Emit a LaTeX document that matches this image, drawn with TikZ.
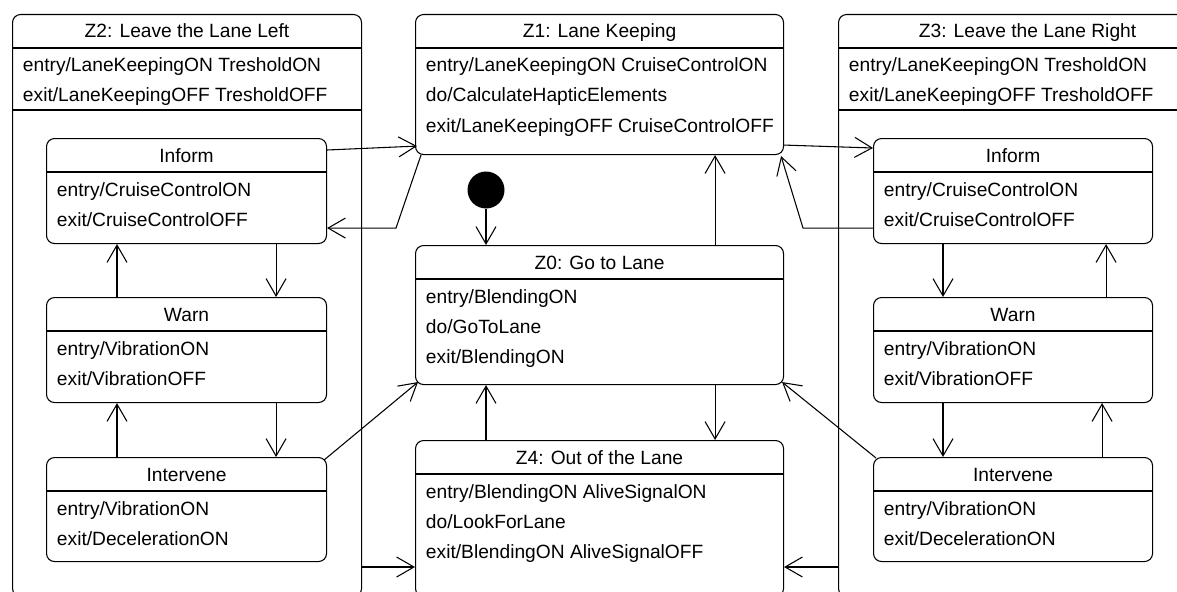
\documentclass[tikz,border=0pt]{standalone}
\usepackage{fontspec}
\setmainfont{Liberation Sans}
\usetikzlibrary{arrows.meta,calc}

\tikzset{
  umlstate/.style={draw, rounded corners=6pt, inner sep=0pt},
  every node/.append style={font=\fontsize{14.4}{17}\selectfont},
}

% state box: name, north west corner, width, height, title, activities
\newcommand{\umlstate}[6]{%
  \node[umlstate, anchor=north west, minimum width={#3*0.75pt}, minimum height={#4*0.75pt}] (#1) at (#2) {};
  \draw ($(#1.north west)+(0,34)$) -- ($(#1.north east)+(0,34)$);
  \node[anchor=base] at ($(#1.north)+(0,24)$) {#5};
  \foreach \act [count=\i, evaluate=\i as \yy using 28+30*\i] in {#6}
    \node[anchor=base west] at ($(#1.north west)+(6,\yy)$) {\act};
}

\begin{document}
\begin{tikzpicture}[x=0.75pt,y=-0.75pt,line width=0.8pt,>={Straight Barb[length=13pt,width=15pt]}]
	\useasboundingbox[fill=white] (0,0) rectangle (1177,592);
	% leave the lane left
	\umlstate{z2}{12,14}{349}{582}{Z2: Leave the Lane Left}{entry/LaneKeepingON TresholdON, exit/LaneKeepingOFF TresholdOFF}
	\draw ($(z2.north west)+(0,96)$) -- ($(z2.north east)+(0,96)$);
	\umlstate{linf}{46,138}{280}{105}{Inform}{entry/CruiseControlON, exit/CruiseControlOFF}
	\umlstate{lwarn}{46,297}{280}{105}{Warn}{entry/VibrationON, exit/VibrationOFF}
	\umlstate{lint}{46,457}{280}{104}{Intervene}{entry/VibrationON, exit/DecelerationON}
	% leave the lane right
	\umlstate{z3}{838,14}{378}{582}{Z3: Leave the Lane Right}{entry/LaneKeepingON TresholdON, exit/LaneKeepingOFF TresholdOFF}
	\draw ($(z3.north west)+(0,96)$) -- ($(z3.north east)+(0,96)$);
	\umlstate{rinf}{873,138}{279}{105}{Inform}{entry/CruiseControlON, exit/CruiseControlOFF}
	\umlstate{rwarn}{873,297}{279}{105}{Warn}{entry/VibrationON, exit/VibrationOFF}
	\umlstate{rint}{873,457}{279}{104}{Intervene}{entry/VibrationON, exit/DecelerationON}
	% center column
	\umlstate{z1}{415,14}{368}{140}{Z1: Lane Keeping}{entry/LaneKeepingON CruiseControlON, do/CalculateHapticElements, exit/LaneKeepingOFF CruiseControlOFF}
	\umlstate{z0}{415,245}{368}{139}{Z0: Go to Lane}{entry/BlendingON, do/GoToLane, exit/BlendingON}
	\umlstate{z4}{415,440}{368}{156}{Z4: Out of the Lane}{entry/BlendingON AliveSignalON, do/LookForLane, exit/BlendingON AliveSignalOFF}
	\node[circle, fill, inner sep=0pt, minimum size=27.75pt] (init) at (486,190) {};

	% transitions inside Z2
	\draw[->] ($(linf.south east)+(-51,0)$) -- ($(lwarn.north east)+(-51,0)$);
	\draw[->] ($(lwarn.north west)+(71,0)$) -- ($(linf.south west)+(71,0)$);
	\draw[->] ($(lwarn.south east)+(-51,0)$) -- ($(lint.north east)+(-51,0)$);
	\draw[->] ($(lint.north west)+(71,0)$) -- ($(lwarn.south west)+(71,0)$);
	% transitions inside Z3
	\draw[->] ($(rinf.south west)+(70,0)$) -- ($(rwarn.north west)+(70,0)$);
	\draw[->] ($(rwarn.north east)+(-47,0)$) -- ($(rinf.south east)+(-47,0)$);
	\draw[->] ($(rwarn.south west)+(70,0)$) -- ($(rint.north west)+(70,0)$);
	\draw[->] ($(rint.north east)+(-51,0)$) -- ($(rwarn.south east)+(-51,0)$);
	% center
	\draw[->] (init) -- (init |- z0.north);
	\draw[->] ($(z0.north east)+(-69,0)$) -- ($(z1.south east)+(-69,0)$);
	\draw[->] ($(z0.south east)+(-69,0)$) -- ($(z4.north east)+(-69,0)$);
	\draw[->] ($(z4.north west)+(71,0)$) -- ($(z0.south west)+(71,0)$);
	% between the columns
	\draw[->] ($(linf.north east)+(0,12)$) -- ($(z1.south west)+(2,-9)$);
	\draw[->] ($(z1.south west)+(6,0)$) -- ++(-25,73) -- ($(linf.south east)+(0,-16)$);
	\draw[->] ($(z1.south east)+(0,-10)$) -- ($(rinf.north west)+(0,10)$);
	\draw[->] ($(rinf.south west)+(0,-16)$) -- ++(-70,0) -- ($(z1.south east)+(-3,1)$);
	\draw[->] ($(lint.north east)+(-3,3)$) -- ($(z0.south west)+(3,-3)$);
	\draw[->] ($(rint.north west)+(3,1)$) -- ($(z0.south east)+(-2,-3)$);
	\coordinate (z4l) at ($(z4.north west)+(0,127)$);
	\coordinate (z4r) at ($(z4.north east)+(0,127)$);
	\draw[->] (z2.east |- z4l) -- (z4l);
	\draw[->] (z3.west |- z4r) -- (z4r);
\end{tikzpicture}
\end{document}
